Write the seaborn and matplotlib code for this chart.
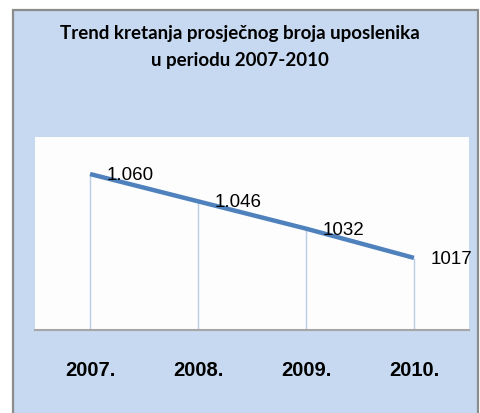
import pandas as pd
import matplotlib
matplotlib.use("Agg")
import matplotlib.pyplot as plt
import seaborn as sns
from matplotlib.patches import Rectangle

# Data
years = ["2007.", "2008.", "2009.", "2010."]
employees = [1060, 1046, 1032, 1017]
point_labels = ["1.060", "1.046", "1032", "1017"]

df = pd.DataFrame({"idx": range(len(years)), "employees": employees})

sns.set_style("white")
plt.rcParams["font.family"] = ["Liberation Sans", "DejaVu Sans"]
plt.rcParams["text.color"] = "black"
plt.rcParams["xtick.color"] = "black"

fig = plt.figure(figsize=(4.8, 4.13), dpi=100)
fig.patch.set_facecolor("white")

# Light blue chart area with gray border
fig.patches.append(Rectangle((13 / 480, -0.01), (478 - 13) / 480, (413 - 10) / 413 + 0.01,
                             transform=fig.transFigure, facecolor="#C6D9F0",
                             edgecolor="#8C8C8C", linewidth=1.6, zorder=-10))

ax = fig.add_axes([35 / 480, 83 / 413, (469 - 35) / 480, (330 - 137) / 413])
ax.set_zorder(5)
ax.set_facecolor("#FDFDFE")

ymin = 980
ax.vlines(df["idx"], ymin, df["employees"], color="#B9CDE5", linewidth=1.0, zorder=1)
sns.lineplot(data=df, x="idx", y="employees", ax=ax, color="#4F81BD",
             linewidth=3.2, zorder=2, solid_capstyle="butt")

for i, (v, lab) in enumerate(zip(employees, point_labels)):
    ax.annotate(lab, (i, v), xytext=(12, -1), textcoords="offset points",
                ha="left", va="center", fontsize=13.5, color="black",
                annotation_clip=False)

ax.set_xlim(-0.51, 3.51)
ax.set_ylim(ymin, 1079)
ax.set_xticks(range(len(years)))
ax.set_xticklabels(years, fontsize=14.5, fontweight="bold", color="black")
ax.set_yticks([])
ax.set_xlabel("")
ax.set_ylabel("")
ax.tick_params(axis="x", length=0, pad=22)

for side in ["left", "right", "top"]:
    ax.spines[side].set_visible(False)
ax.spines["bottom"].set_color("#A6A6A6")
ax.spines["bottom"].set_linewidth(1.5)

fig.text(0.5, 1 - 47 / 413, "Trend kretanja prosječnog broja uposlenika\nu periodu 2007-2010",
         ha="center", va="center", fontsize=13.5, fontweight="bold", color="black",
         family=["Lato", "DejaVu Sans"], linespacing=1.75)

fig.savefig("out.png", dpi=100)
